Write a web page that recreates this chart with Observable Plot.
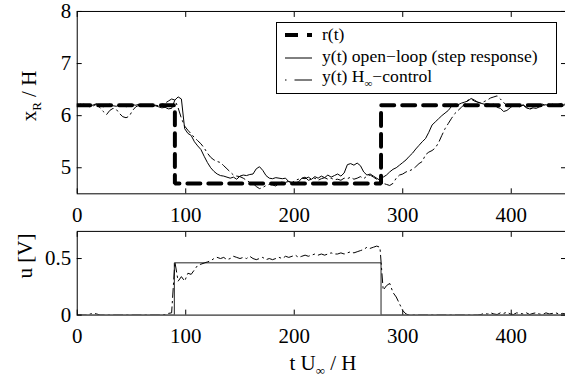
<!DOCTYPE html>
<html><head><meta charset="utf-8">
<script src="https://cdn.jsdelivr.net/npm/d3@7"></script>
<script src="https://cdn.jsdelivr.net/npm/@observablehq/plot@0.6"></script>
<style>
html,body{margin:0;padding:0;background:#fff;overflow:hidden;}
#wrap{position:relative;width:565px;height:381px;overflow:hidden;font-family:"Liberation Serif","Times New Roman",serif;color:#000;background:#fff;}
.panel{position:absolute;left:0;}
.lab{position:absolute;font-size:21px;white-space:nowrap;line-height:1;transform:translate(-50%,-50%);}
.rot{transform:translate(-50%,-50%) rotate(-90deg);}
.lab sub{font-size:0.62em;vertical-align:-0.45em;line-height:0;}
</style></head><body><div id="wrap"></div>
<script>
// ---- data ----
const timeGrid = d3.range(0, 451, 3); // sampling instants t U∞/H
const refTimes = [0, 90, 90, 280, 280, 450];
const refValues = [6.2, 6.2, 4.7, 4.7, 6.2, 6.2];
const yOpenLoop = [
  6.21,6.19,6.22,6.20,6.18,6.21,6.23,6.19,6.17,6.20,
  6.22,6.19,6.18,6.21,6.20,6.17,6.19,6.21,6.20,6.22,
  6.19,6.21,6.18,6.20,6.19,6.17,6.15,6.16,6.13,6.14,
  6.30,6.36,6.32,5.75,5.66,5.62,5.50,5.42,5.35,5.22,
  5.10,5.00,4.93,4.88,4.85,4.84,4.82,4.80,4.82,4.78,
  4.84,4.86,4.85,4.87,4.88,4.98,5.02,4.95,4.85,4.80,
  4.79,4.81,4.80,4.79,4.80,4.73,4.72,4.71,4.73,4.80,
  4.82,4.76,4.78,4.83,4.80,4.84,4.81,4.86,4.82,4.85,
  4.88,4.84,4.90,5.06,5.08,5.05,5.09,5.04,4.92,4.86,
  4.88,4.84,4.80,4.76,4.82,4.86,4.92,4.97,5.00,5.05,
  5.10,5.15,5.22,5.28,5.36,5.43,5.50,5.56,5.68,5.82,
  5.88,5.94,6.00,6.05,6.10,6.18,6.22,6.21,6.24,6.26,
  6.28,6.33,6.30,6.26,6.24,6.22,6.23,6.21,6.22,6.16,
  6.14,6.08,6.10,6.15,6.20,6.21,6.19,6.20,6.15,6.13,
  6.15,6.14,6.17,6.20,6.21,6.19,6.22,6.20,6.21,6.20,
  6.21];
const yHinf = [
  6.20,6.22,6.18,6.21,6.16,6.19,6.22,6.15,6.08,6.02,
  6.10,6.14,6.12,6.04,5.98,5.96,5.99,6.10,6.17,6.20,
  6.22,6.19,6.21,6.18,6.20,6.19,6.22,6.24,6.28,6.32,
  6.30,6.15,5.95,5.80,5.72,5.65,5.58,5.52,5.46,5.38,
  5.28,5.20,5.15,5.12,5.10,5.04,4.98,4.92,4.86,4.84,
  4.83,4.80,4.76,4.72,4.70,4.64,4.60,4.62,4.66,4.68,
  4.67,4.65,4.70,4.73,4.72,4.74,4.71,4.76,4.78,4.80,
  4.79,4.82,4.78,4.80,4.76,4.79,4.81,4.78,4.80,4.77,
  4.78,4.76,4.80,4.79,4.82,4.78,4.80,4.83,4.79,4.84,
  4.86,4.82,4.78,4.74,4.70,4.68,4.66,4.70,4.80,4.86,
  4.88,4.92,4.94,4.97,5.02,5.08,5.12,5.25,5.30,5.33,
  5.38,5.48,5.62,5.75,5.85,5.95,6.04,6.10,6.16,6.22,
  6.30,6.32,6.28,6.26,6.24,6.27,6.30,6.34,6.36,6.38,
  6.32,6.25,6.20,6.18,6.22,6.19,6.17,6.21,6.16,6.12,
  6.15,6.18,6.20,6.22,6.19,6.23,6.21,6.20,6.22,6.24,
  6.22];
const uOpenTimes = [0, 89.5, 89.5, 280, 280, 450];
const uOpenValues = [0, 0, 0.462, 0.462, 0, 0];
const uHinf = [
  0,0,0,0,0.01,0.015,0.01,0,0,0,
  0,0,0,0,0,0,0,0,0,0,
  0,0,0,0,0,0,0,0.005,0.015,0.02,
  0.47,0.30,0.34,0.30,0.37,0.36,0.40,0.44,0.45,0.46,
  0.47,0.48,0.50,0.51,0.50,0.51,0.49,0.50,0.52,0.51,
  0.50,0.51,0.50,0.52,0.50,0.49,0.50,0.51,0.49,0.50,
  0.49,0.50,0.51,0.50,0.52,0.51,0.52,0.53,0.51,0.52,
  0.53,0.52,0.53,0.54,0.53,0.54,0.53,0.54,0.55,0.54,
  0.54,0.55,0.54,0.55,0.56,0.55,0.56,0.57,0.58,0.60,
  0.59,0.60,0.61,0.60,0.22,0.26,0.28,0.20,0.16,0.10,
  0.04,0.01,0,0,0,0,0,0,0,0,
  0,0,0,0,0,0,0,0,0,0,
  0,0,0,0,0.005,0.015,0.01,0.02,0.01,0.005,
  0.02,0.015,0.025,0.01,0.005,0.02,0.015,0.01,0.02,0.005,
  0.015,0.02,0.01,0.005,0.02,0.01,0.015,0.02,0.01,0.015,
  0.01];
const xTicks = [0, 100, 200, 300, 400];
const yTicksTop = [5, 6, 7, 8];
const yTicksBottom = [0, 0.5];
const legendLabels = ["r(t)", "y(t) open\u2212loop (step response)", "y(t) H", "\u221E", "\u2212control"];

// ---- helpers ----
const FONT = '"Liberation Serif","Times New Roman",serif';
const DASHDOT = "9,4,1.5,4";
const ref = refTimes.map((t, i) => ({t, v: refValues[i]}));
const openTop = timeGrid.map((t, i) => ({t, v: yOpenLoop[i]}));
const hinfTop = timeGrid.map((t, i) => ({t, v: yHinf[i]}));
const openU = uOpenTimes.map((t, i) => ({t, v: uOpenValues[i]}));
const hinfU = timeGrid.map((t, i) => ({t, v: uHinf[i]}));

function panel({height, marginTop, marginBottom, yDomain, yTicks, xPad, marks}) {
  const noText = () => "";
  const fmt = (d) => String(d);
  const f = {fontFamily: FONT, fontSize: 21};
  return Plot.plot({
    width: 567, height, marginLeft: 77, marginRight: 0, marginTop, marginBottom,
    x: {domain: [0, 450]},
    y: {domain: yDomain},
    style: {fontFamily: FONT, fontSize: "21px", background: "transparent", color: "black", overflow: "visible"},
    marks: [
      ...marks,
      Plot.frame({stroke: "black", strokeWidth: 1}),
      Plot.axisX(xTicks, {anchor: "bottom", tickSize: 0, tickPadding: xPad, tickFormat: fmt, label: null, ...f}),
      Plot.axisX(xTicks, {anchor: "bottom", tickSize: 5, dy: -5, tickFormat: noText, label: null}),
      Plot.axisX(xTicks, {anchor: "top", tickSize: 5, dy: 5, tickFormat: noText, label: null}),
      Plot.axisY(yTicks, {anchor: "left", tickSize: 0, tickPadding: 6, tickFormat: fmt, label: null, ...f}),
      Plot.axisY(yTicks, {anchor: "left", tickSize: 5, dx: 5, tickFormat: noText, label: null}),
      Plot.axisY(yTicks, {anchor: "right", tickSize: 5, dx: -5, tickFormat: noText, label: null})
    ]
  });
}

const wrap = document.getElementById("wrap");

const topPanel = panel({
  height: 230, marginTop: 11, marginBottom: 36, yDomain: [4.5, 8], yTicks: yTicksTop, xPad: 13,
  marks: [
    Plot.line(ref, {x: "t", y: "v", stroke: "black", strokeWidth: 4, strokeDasharray: "13,8", strokeLinejoin: "miter", clip: true}),
    Plot.line(openTop, {x: "t", y: "v", stroke: "black", strokeWidth: 1, clip: true}),
    Plot.line(hinfTop, {x: "t", y: "v", stroke: "black", strokeWidth: 1, strokeDasharray: DASHDOT, clip: true})
  ]
});
topPanel.classList.add("panel"); topPanel.style.top = "0px";
wrap.appendChild(topPanel);

const bottomPanel = panel({
  height: 181, marginTop: 31, marginBottom: 66, yDomain: [0, 0.74], yTicks: yTicksBottom, xPad: 13,
  marks: [
    Plot.line(openU, {x: "t", y: "v", stroke: "#222", strokeWidth: 1, clip: true}),
    Plot.line(hinfU, {x: "t", y: "v", stroke: "black", strokeWidth: 1, strokeDasharray: DASHDOT, clip: true})
  ]
});
bottomPanel.classList.add("panel"); bottomPanel.style.top = "200px";
wrap.appendChild(bottomPanel);

// ---- legend ----
const lg = d3.create("svg").attr("width", 282).attr("height", 73)
  .style("position", "absolute").style("left", "275px").style("top", "22px")
  .style("font-family", FONT).style("font-size", "17.6px");
lg.append("rect").attr("x", 1.5).attr("y", 0.5).attr("width", 280).attr("height", 71)
  .attr("fill", "white").attr("stroke", "black").attr("stroke-width", 1);
lg.append("line").attr("x1", 10).attr("x2", 37).attr("y1", 13).attr("y2", 13)
  .attr("stroke", "black").attr("stroke-width", 4).attr("stroke-dasharray", "13,9");
lg.append("line").attr("x1", 10).attr("x2", 37).attr("y1", 36).attr("y2", 36)
  .attr("stroke", "black").attr("stroke-width", 1);
lg.append("line").attr("x1", 10).attr("x2", 37).attr("y1", 58).attr("y2", 58)
  .attr("stroke", "black").attr("stroke-width", 1).attr("stroke-dasharray", "1.5,8,18");
lg.append("text").attr("x", 47).attr("y", 12.5).attr("dy", "0.33em").text(legendLabels[0]);
lg.append("text").attr("x", 47).attr("y", 34.5).attr("dy", "0.33em").text(legendLabels[1]);
const t3 = lg.append("text").attr("x", 47).attr("y", 54).attr("dy", "0.33em");
t3.append("tspan").text(legendLabels[2]);
t3.append("tspan").attr("dy", 5).attr("font-size", "11px").text(legendLabels[3]);
t3.append("tspan").attr("dy", -5).text(legendLabels[4]);
wrap.appendChild(lg.node());

// ---- axis titles ----
function label(html, x, y, rot) {
  const d = document.createElement("div");
  d.className = "lab" + (rot ? " rot" : "");
  d.style.left = x + "px"; d.style.top = y + "px";
  d.innerHTML = html;
  wrap.appendChild(d);
}
label("x<sub>R</sub> / H", 29, 96, true);
label("u [V]", 25, 256, true);
label("t U<sub>\u221E</sub> / H", 323, 363, false);
</script></body></html>
